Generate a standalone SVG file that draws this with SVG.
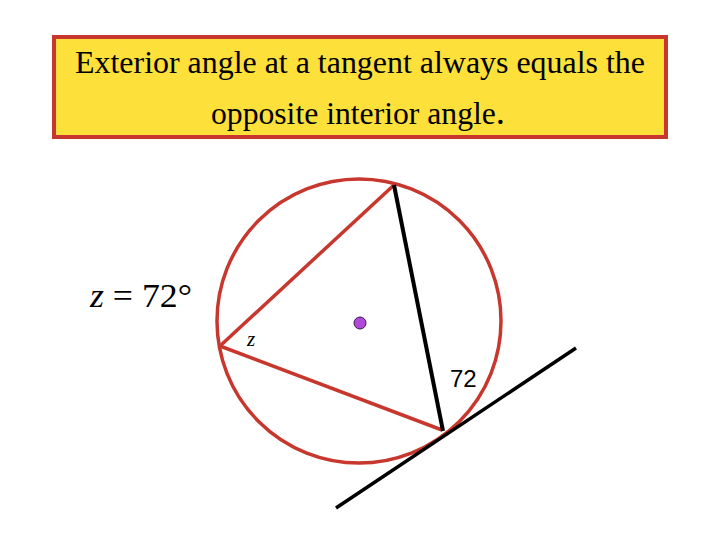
<svg xmlns="http://www.w3.org/2000/svg" width="720" height="540" viewBox="0 0 720 540">
<style>
.serif{font-family:"Liberation Serif","Times New Roman",serif;fill:#000}
.red{stroke:#C8372D;fill:none;stroke-width:3.5}
</style>
<rect width="720" height="540" fill="#fff"/>
<g id="title">
<rect x="54" y="37" width="612" height="100" fill="#FDE03A" stroke="#C8372D" stroke-width="4"/>
<text class="serif" x="75" y="73" font-size="31" textLength="570" lengthAdjust="spacingAndGlyphs">Exterior angle at a tangent always equals the</text>
<text class="serif" x="211" y="124" font-size="31" textLength="294" lengthAdjust="spacingAndGlyphs">opposite interior angle<tspan font-size="36">.</tspan></text>
</g>
<g id="equation">
<text class="serif" x="90" y="307" font-size="34" textLength="102" lengthAdjust="spacingAndGlyphs"><tspan font-style="italic">z</tspan> = 72°</text>
</g>
<g id="circle">
<circle cx="359" cy="321" r="142" class="red" stroke-width="5"/>
<circle cx="360" cy="323" r="6" fill="#B048D8" stroke="#3a1a50" stroke-width="1"/>
</g>
<g id="connectors">
<line x1="394" y1="185" x2="220" y2="346" class="red"/>
<line x1="220" y1="346" x2="442" y2="430" class="red"/>
<line x1="394" y1="185" x2="443" y2="431" stroke="#000" stroke-width="4"/>
<line x1="336" y1="508" x2="576" y2="348" stroke="#000" stroke-width="3.5"/>
</g>
<g id="labels">
<text class="serif" x="247" y="346" font-size="21" font-style="italic">z</text>
<text x="450" y="387" font-family="Liberation Sans,Arial,sans-serif" font-size="24">72</text>
</g>
</svg>
